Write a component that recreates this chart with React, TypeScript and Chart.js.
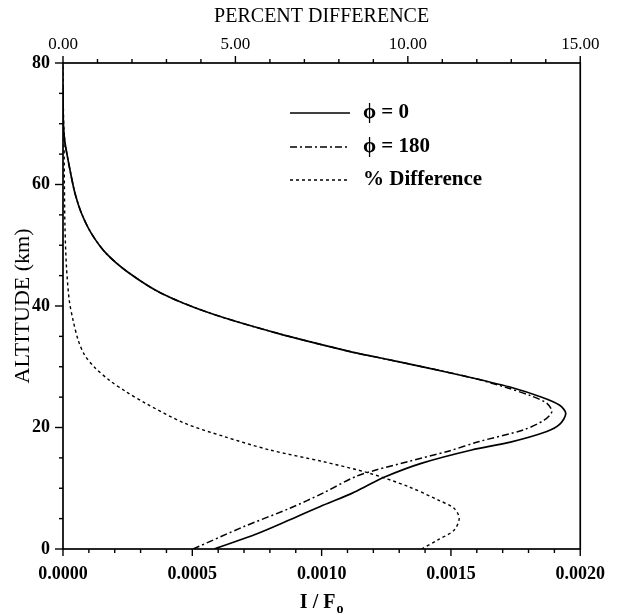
import React, { useEffect, useRef } from "react";
import { Chart, registerables } from "chart.js";

Chart.register(...registerables);

const FONT = '"Liberation Serif", "Times New Roman", serif';

// phi = 0 (solid)
const altitudePhi0 = [0, 2.5, 4.8, 7.2, 9.2, 10.3, 11.9, 14.1, 16.3, 17.6, 19.3, 20.5, 22.3, 23.7, 25.1, 26.5, 28.1, 29.9, 31.6, 32.5, 35.5, 38.8, 42.1, 45.6, 48.7, 52.0, 55.3, 58.6, 62.4, 66.8, 69.5, 74, 76];
const intensityPhi0 = [0.000585, 0.00075, 0.000877, 0.001005, 0.001119, 0.00117, 0.001246, 0.001385, 0.00158, 0.00173, 0.001868, 0.00192, 0.001944, 0.001919, 0.001843, 0.001741, 0.001589, 0.0014, 0.00121, 0.00111, 0.00083, 0.00057, 0.00038, 0.00025, 0.000166, 0.000109, 0.000071, 0.000046, 0.000027, 0.000008, 0.000002, 0, 0];

// phi = 180 (dash-dot)
const altitudePhi180 = [0, 3.7, 6.7, 9.2, 11.9, 13.0, 14.4, 16.1, 17.7, 19.6, 21.2, 22.6, 24.0, 25.2, 26.5, 28.1, 29.9, 31.6, 32.5, 35.5, 38.8, 42.1, 45.6, 48.7, 52.0, 55.3, 58.6, 62.4, 66.8, 69.5, 74, 76];
const intensityPhi180 = [0.000503, 0.0007, 0.000877, 0.001005, 0.00113, 0.00121, 0.001335, 0.00149, 0.00161, 0.00178, 0.00186, 0.00189, 0.00187, 0.00181, 0.00172, 0.001589, 0.0014, 0.00121, 0.00111, 0.00083, 0.00057, 0.00038, 0.00025, 0.000166, 0.000109, 0.000071, 0.000046, 0.000027, 0.000008, 0.000002, 0, 0];

// % difference (dotted, top axis)
const altitudeDiff = [0, 1.5, 3.1, 5.05, 6.7, 8.1, 10.3, 12.5, 14.4, 16.3, 18.5, 20.7, 24.0, 26.0, 27.8, 30.0, 32.0, 34.4, 37.7, 41.0, 46.5, 53.0, 60.0, 66.8, 73.0, 80.0];
const percentDiff = [10.4, 10.87, 11.34, 11.49, 11.34, 10.87, 10.0, 8.87, 7.53, 6.0, 4.68, 3.53, 2.39, 1.8, 1.34, 0.9, 0.62, 0.44, 0.29, 0.18, 0.1, 0.057, 0.04, 0.03, 0.01, 0];

const bottomTicks = [0, 0.0005, 0.001, 0.0015, 0.002];
const bottomMinorStep = 0.0001;
const topTicks = [0, 5, 10, 15];
const topMinorStep = 1;
const leftTicks = [0, 20, 40, 60, 80];
const leftMinorStep = 5;

const legendLabels = ["\u03D5 = 0", "\u03D5 = 180", "% Difference"];
const legendDashes = [[], [7, 3, 2, 3], [3, 3]];

const toPoints = (xs: number[], ys: number[]) => xs.map((x, i) => ({ x, y: ys[i] }));

const drawLine = (ctx: CanvasRenderingContext2D, x1: number, y1: number, x2: number, y2: number) => {
  ctx.beginPath();
  ctx.moveTo(x1, y1);
  ctx.lineTo(x2, y2);
  ctx.stroke();
};

const decorPlugin = {
  id: "decor",
  afterDraw(chart: any) {
    const { ctx, chartArea: a, scales } = chart;
    ctx.save();
    ctx.strokeStyle = "#000";
    ctx.fillStyle = "#000";
    ctx.setLineDash([]);
    ctx.lineWidth = 1.7;
    ctx.strokeRect(a.left, a.top, a.right - a.left, a.bottom - a.top);

    ctx.lineWidth = 1.4;
    const isMajor = (v: number, majors: number[]) => majors.some((m) => Math.abs(m - v) < 1e-9);
    const xs = scales.x;
    for (let v = xs.min; v <= xs.max + 1e-12; v += bottomMinorStep) {
      const px = xs.getPixelForValue(v);
      const len = isMajor(v, bottomTicks) ? 7 : 4;
      drawLine(ctx, px, a.bottom, px, a.bottom + len);
    }
    const x2 = scales.x2;
    for (let v = x2.min; v <= x2.max + 1e-9; v += topMinorStep) {
      const px = x2.getPixelForValue(v);
      const len = isMajor(v, topTicks) ? 7 : 4;
      drawLine(ctx, px, a.top, px, a.top - len);
    }
    const ys = scales.y;
    for (let v = ys.min; v <= ys.max + 1e-9; v += leftMinorStep) {
      const py = ys.getPixelForValue(v);
      const len = isMajor(v, leftTicks) ? 8 : 4;
      drawLine(ctx, a.left, py, a.left - len, py);
    }

    // bottom axis title with subscript
    ctx.textAlign = "left";
    ctx.textBaseline = "alphabetic";
    ctx.font = `bold 20px ${FONT}`;
    const main = "I / F";
    const mw = ctx.measureText(main).width;
    ctx.font = `bold 14px ${FONT}`;
    const sub = "o";
    const sw = ctx.measureText(sub).width;
    const cx = (a.left + a.right) / 2;
    const x0 = cx - (mw + sw + 1) / 2;
    ctx.font = `bold 20px ${FONT}`;
    ctx.fillText(main, x0, 608);
    ctx.font = `bold 14px ${FONT}`;
    ctx.fillText(sub, x0 + mw + 1, 613);

    // legend
    const rows = [113, 147, 180];
    ctx.textBaseline = "middle";
    legendLabels.forEach((label, i) => {
      ctx.lineWidth = 1.5;
      ctx.setLineDash(legendDashes[i]);
      drawLine(ctx, 290, rows[i], 350, rows[i]);
      ctx.setLineDash([]);
      ctx.font = `bold 21px ${FONT}`;
      ctx.fillText(label, 363, rows[i]);
    });
    ctx.restore();
  },
};

export default function App() {
  const ref = useRef<HTMLCanvasElement>(null);

  useEffect(() => {
    if (!ref.current) return;
    const tickFont = { family: FONT, size: 18, weight: "bold" as const };
    const chart = new Chart(ref.current, {
      type: "scatter",
      data: {
        datasets: [
          {
            label: legendLabels[0],
            data: toPoints(intensityPhi0, altitudePhi0),
            xAxisID: "x",
            yAxisID: "y",
            showLine: true,
            borderColor: "#000",
            borderWidth: 1.7,
            pointRadius: 0,
            tension: 0.3,
          },
          {
            label: legendLabels[1],
            data: toPoints(intensityPhi180, altitudePhi180),
            xAxisID: "x",
            yAxisID: "y",
            showLine: true,
            borderColor: "#000",
            borderWidth: 1.5,
            borderDash: legendDashes[1],
            pointRadius: 0,
            tension: 0.3,
          },
          {
            label: legendLabels[2],
            data: toPoints(percentDiff, altitudeDiff),
            xAxisID: "x2",
            yAxisID: "y",
            showLine: true,
            borderColor: "#000",
            borderWidth: 1.4,
            borderDash: legendDashes[2],
            pointRadius: 0,
            tension: 0.3,
          },
        ],
      },
      options: {
        animation: false,
        responsive: false,
        devicePixelRatio: 1,
        layout: { padding: { left: 0, right: 32, top: 0, bottom: 0 } },
        plugins: { legend: { display: false }, tooltip: { enabled: false } },
        scales: {
          x: {
            type: "linear",
            position: "bottom",
            min: 0,
            max: 0.002,
            afterBuildTicks: (s: any) => {
              s.ticks = bottomTicks.map((value) => ({ value }));
            },
            ticks: {
              callback: (v: any) => Number(v).toFixed(4),
              font: tickFont,
              color: "#000",
              padding: 15,
              maxRotation: 0,
              autoSkip: false,
            },
            grid: { display: false, drawTicks: false },
            border: { display: false },
            afterFit: (s: any) => {
              s.height = 67;
            },
          },
          x2: {
            type: "linear",
            position: "top",
            min: 0,
            max: 15,
            afterBuildTicks: (s: any) => {
              s.ticks = topTicks.map((value) => ({ value }));
            },
            ticks: {
              callback: (v: any) => Number(v).toFixed(2),
              font: { family: FONT, size: 17 },
              color: "#000",
              padding: 8,
              maxRotation: 0,
              autoSkip: false,
            },
            title: {
              display: true,
              text: "PERCENT DIFFERENCE",
              font: { family: FONT, size: 20 },
              color: "#000",
              padding: { top: 5, bottom: 0 },
            },
            grid: { display: false, drawTicks: false },
            border: { display: false },
            afterFit: (s: any) => {
              s.height = 63;
            },
          },
          y: {
            type: "linear",
            position: "left",
            min: 0,
            max: 80,
            afterBuildTicks: (s: any) => {
              s.ticks = leftTicks.map((value) => ({ value }));
            },
            ticks: {
              callback: (v: any) => String(v),
              font: tickFont,
              color: "#000",
              padding: 13,
              autoSkip: false,
            },
            title: {
              display: true,
              text: "ALTITUDE (km)",
              font: { family: FONT, size: 22 },
              color: "#000",
              padding: { top: 10, bottom: 0 },
            },
            grid: { display: false, drawTicks: false },
            border: { display: false },
            afterFit: (s: any) => {
              s.width = 63;
            },
          },
        },
      },
      plugins: [decorPlugin],
    });
    return () => chart.destroy();
  }, []);

  return (
    <div style={{ position: "absolute", left: 0, top: 0, width: 620, height: 616, background: "#fff" }}>
      <canvas ref={ref} width={620} height={616} style={{ display: "block", width: 620, height: 616 }} />
    </div>
  );
}
